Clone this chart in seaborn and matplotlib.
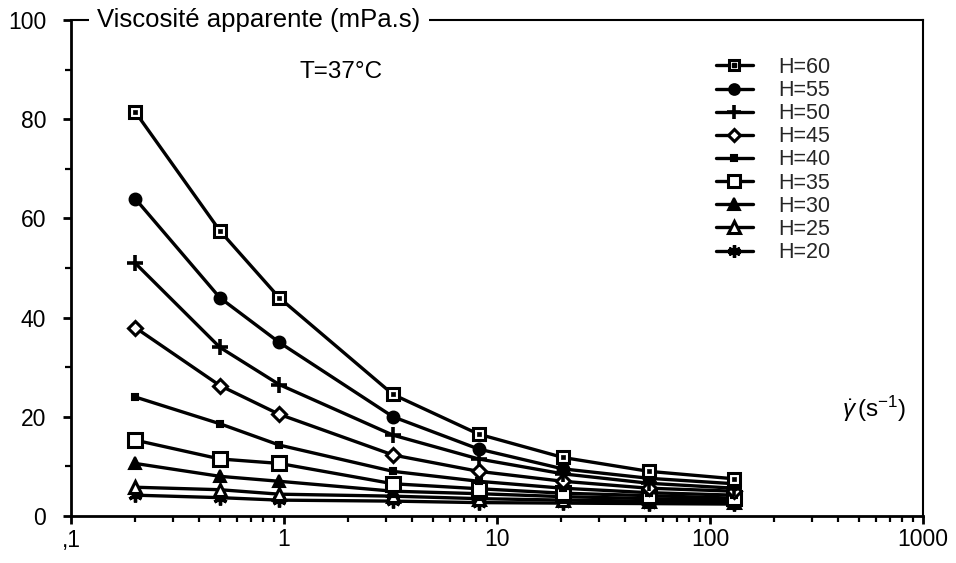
import numpy as np
import pandas as pd
import matplotlib
matplotlib.use("Agg")
import matplotlib.pyplot as plt
from matplotlib.lines import Line2D
from matplotlib.legend_handler import HandlerTuple
from matplotlib.ticker import FixedLocator, FixedFormatter, LogLocator, NullFormatter, MultipleLocator
import seaborn as sns

# ---- data ----
shear_rate = [0.2, 0.5, 0.95, 3.25, 8.2, 20.4, 51.7, 130]
series_labels = ["H=60", "H=55", "H=50", "H=45", "H=40", "H=35", "H=30", "H=25", "H=20"]
h60 = [81.5, 57.5, 44.0, 24.5, 16.5, 11.8, 9.0, 7.5]
h55 = [64.0, 44.0, 35.0, 20.0, 13.5, 9.5, 7.6, 6.5]
h50 = [51.0, 34.0, 26.5, 16.3, 11.5, 8.5, 6.6, 5.6]
h45 = [38.0, 26.3, 20.5, 12.3, 9.0, 7.0, 5.6, 5.0]
h40 = [24.0, 18.6, 14.3, 9.0, 7.0, 5.6, 4.7, 4.2]
h35 = [15.3, 11.5, 10.6, 6.5, 5.5, 4.6, 4.1, 3.6]
h30 = [10.6, 8.0, 7.0, 5.0, 4.5, 3.9, 3.5, 3.2]
h25 = [5.8, 5.3, 4.4, 4.0, 3.5, 3.2, 3.0, 2.9]
h20 = [4.2, 3.7, 3.2, 3.0, 2.7, 2.6, 2.5, 2.4]
values = [h60, h55, h50, h45, h40, h35, h30, h25, h20]
x_tick_values = [0.1, 1, 10, 100, 1000]
x_tick_labels = [",1", "1", "10", "100", "1000"]
y_tick_values = [0, 20, 40, 60, 80, 100]

df = pd.DataFrame({
    "x": np.tile(shear_rate, len(series_labels)),
    "y": np.concatenate(values),
    "H": np.repeat(series_labels, len(shear_rate)),
})

# ---- style ----
sns.set_style("white")
plt.rcParams["font.family"] = ["Liberation Sans", "DejaVu Sans"]
plt.rcParams["mathtext.fontset"] = "custom"
plt.rcParams["mathtext.rm"] = "Liberation Sans"
plt.rcParams["mathtext.it"] = "Liberation Sans:italic"

styles = {
    "H=60": dict(marker="s", ms=8, mfc="white", mew=2.2),
    "H=55": dict(marker="o", ms=8.5, mfc="black", mew=1.5),
    "H=50": dict(marker="+", ms=11, mfc="black", mew=2.6),
    "H=45": dict(marker="D", ms=7, mfc="white", mew=2.2),
    "H=40": dict(marker="s", ms=5, mfc="black", mew=1.5),
    "H=35": dict(marker="s", ms=9.5, mfc="white", mew=2.2),
    "H=30": dict(marker="^", ms=9, mfc="black", mew=1.5),
    "H=25": dict(marker="^", ms=9, mfc="white", mew=2.2),
    "H=20": dict(marker=(6, 2, 0), ms=10, mfc="black", mew=2.4),
}
LW = 2.4

fig = plt.figure(figsize=(9.56, 5.63), dpi=100)
ax = fig.add_axes([71 / 956, 1 - 516 / 563, (923 - 71) / 956, (516 - 20) / 563])

for i, lab in enumerate(series_labels[::-1]):
    sub = df[df["H"] == lab]
    st = styles[lab]
    sns.lineplot(data=sub, x="x", y="y", ax=ax, color="black", lw=LW,
                 marker=st["marker"], markersize=st["ms"], markerfacecolor=st["mfc"],
                 markeredgecolor="black", markeredgewidth=st["mew"], legend=False,
                 zorder=3 + i * 0.01)

# centre dot of H=60 markers
sub60 = df[df["H"] == "H=60"]
sns.scatterplot(data=sub60, x="x", y="y", ax=ax, marker="s", s=5, color="black",
                edgecolor="black", linewidth=0.5, legend=False, zorder=5)

handles = []
for lab in series_labels:
    st = styles[lab]
    ln = Line2D([], [], color="black", lw=LW, marker=st["marker"], markersize=st["ms"] * 0.9,
                markerfacecolor=st["mfc"], markeredgecolor="black", markeredgewidth=st["mew"])
    if lab == "H=60":
        dot = Line2D([], [], color="black", lw=0, marker="s", markersize=2.2,
                     markerfacecolor="black", markeredgecolor="black")
        handles.append((ln, dot))
    else:
        handles.append(ln)

leg = ax.legend(handles, series_labels, loc="upper left", bbox_to_anchor=(0.747, 0.943),
                frameon=False, fontsize=15.5, handlelength=1.7, handletextpad=1.2,
                labelspacing=0.1, borderaxespad=0,
                handler_map={tuple: HandlerTuple(ndivide=1, pad=0)})

ax.set_xscale("log")
ax.set_xlim(0.1, 1000)
ax.set_ylim(0, 100)
ax.xaxis.set_major_locator(FixedLocator(x_tick_values))
ax.xaxis.set_major_formatter(FixedFormatter(x_tick_labels))
ax.xaxis.set_minor_locator(LogLocator(base=10, subs=np.arange(2, 10)))
ax.xaxis.set_minor_formatter(NullFormatter())
ax.yaxis.set_major_locator(FixedLocator(y_tick_values))
ax.yaxis.set_minor_locator(MultipleLocator(10))
ax.set_xlabel("")
ax.set_ylabel("")

for s in ["left", "bottom", "right", "top"]:
    ax.spines[s].set_visible(True)
    ax.spines[s].set_color("black")
    ax.spines[s].set_linewidth(2.0)
ax.spines["right"].set_linewidth(1.5)
ax.spines["top"].set_linewidth(1.5)

ax.tick_params(axis="both", which="major", direction="out", length=6, width=2,
               labelsize=16.5, color="black", labelcolor="black",
               bottom=True, left=True, top=False, right=False)
ax.tick_params(axis="x", which="major", pad=3)
ax.tick_params(axis="y", which="major", pad=12)
ax.tick_params(axis="both", which="minor", direction="out", length=4, width=1.6,
               color="black", bottom=True, left=True, top=False, right=False)

ax.text(0.031, 1.0, "Viscosité apparente (mPa.s)", transform=ax.transAxes,
        ha="left", va="center", fontsize=18.5, color="black", zorder=10,
        bbox=dict(facecolor="white", edgecolor="none", pad=6), clip_on=False)
ax.text(0.268, 0.895, "T=37°C", transform=ax.transAxes, ha="left", va="center",
        fontsize=17.5, color="black")
ax.text(0.98, 0.215, r"$\dot{\gamma}\,(\mathrm{s}^{-1})$", transform=ax.transAxes,
        ha="right", va="center", fontsize=17.5, color="black")

fig.savefig("out.png", dpi=100)
